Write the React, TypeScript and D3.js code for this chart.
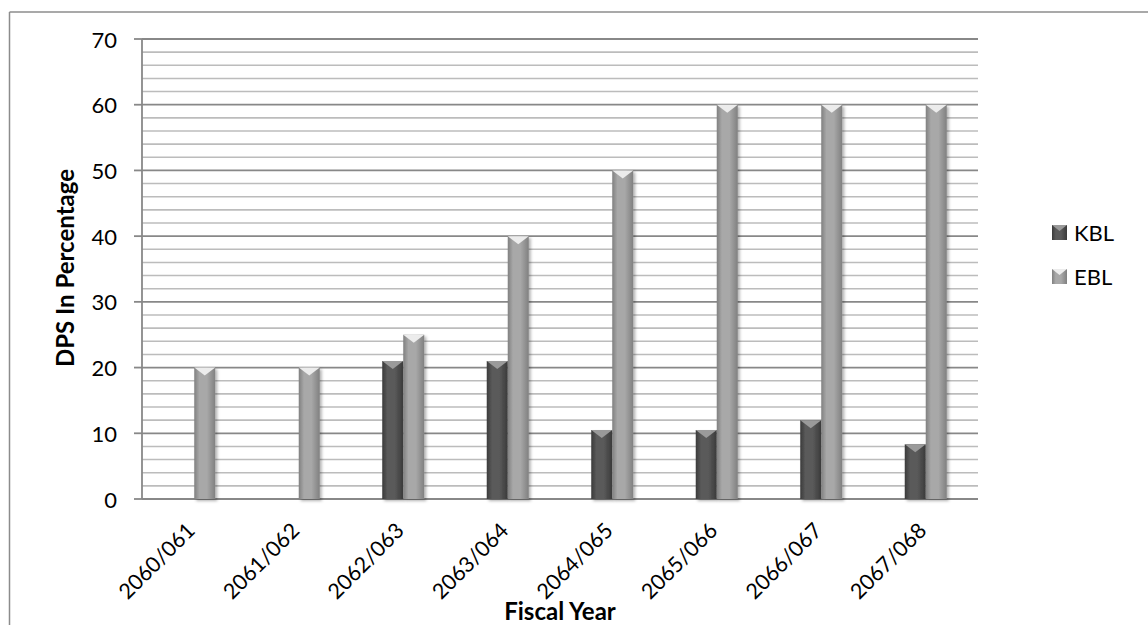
import React from "react";
import * as d3 from "d3";

// Fiscal years and dividend-per-share values (%) for the two banks
const fiscalYears = [
  "2060/061",
  "2061/062",
  "2062/063",
  "2063/064",
  "2064/065",
  "2065/066",
  "2066/067",
  "2067/068",
];
const kblValues = [0, 0, 21, 21, 10.5, 10.5, 12, 8.33];
const eblValues = [20, 20, 25, 40, 50, 60, 60, 60];
const seriesNames = ["KBL", "EBL"];
const yTicks = [0, 10, 20, 30, 40, 50, 60, 70];

const W = 1148;
const H = 625;
const plot = { left: 142, right: 978, top: 39, bottom: 499 };
const FONT = "Lato, 'Open Sans', sans-serif";

const palette: Record<string, { edge: string; mid: string; cap: string }> = {
  KBL: { edge: "#3a3a3a", mid: "#5a5a5a", cap: "#9a9a9a" },
  EBL: { edge: "#808080", mid: "#a8a8a8", cap: "#ececec" },
};

export default function App() {
  const x0 = d3
    .scaleBand<string>()
    .domain(fiscalYears)
    .range([plot.left, plot.right])
    .paddingInner(0.598)
    .paddingOuter(0.299);
  const x1 = d3
    .scaleBand<string>()
    .domain(seriesNames)
    .range([0, x0.bandwidth()]);
  const y = d3.scaleLinear().domain([0, 70]).range([plot.bottom, plot.top]);

  const minorTicks = d3.range(0, 71, 2).filter((v) => v % 10 !== 0);

  const rows = fiscalYears.map((fy, i) => ({
    fy,
    KBL: kblValues[i],
    EBL: eblValues[i],
  }));

  const bar = (key: string, cx: number, v: number, k: string) => {
    if (v <= 0) return null;
    const bx = cx + (x1(key) ?? 0);
    const bw = x1.bandwidth();
    const top = y(v);
    const h = y(0) - top;
    const capH = Math.min(8, h);
    return (
      <g key={k} filter="url(#barShadow)">
        <rect x={bx} y={top} width={bw} height={h} fill={`url(#grad-${key})`} />
        <polygon
          points={`${bx},${top} ${bx + bw},${top} ${bx + bw / 2},${top + capH}`}
          fill={palette[key].cap}
        />
      </g>
    );
  };

  const legendY = [232, 276];

  return (
    <svg
      width={W}
      height={H}
      style={{ position: "absolute", left: 0, top: 0, background: "#fff" }}
      fontFamily={FONT}
    >
      <defs>
        {seriesNames.map((s) => (
          <linearGradient key={s} id={`grad-${s}`} x1="0" x2="1" y1="0" y2="0">
            <stop offset="0" stopColor={palette[s].edge} />
            <stop offset="0.25" stopColor={palette[s].mid} />
            <stop offset="0.6" stopColor={palette[s].mid} />
            <stop offset="1" stopColor={palette[s].edge} />
          </linearGradient>
        ))}
        <filter id="barShadow" x="-30%" y="-10%" width="160%" height="130%">
          <feDropShadow dx="2" dy="2" stdDeviation="1.5" floodColor="#000" floodOpacity="0.3" />
        </filter>
      </defs>

      {/* outer frame */}
      <line x1={9.5} x2={W} y1={12} y2={12} stroke="#8c8c8c" strokeWidth={1.5} />
      <line x1={9.5} x2={9.5} y1={12} y2={H} stroke="#8c8c8c" strokeWidth={1.5} />

      {/* minor gridlines */}
      {minorTicks.map((t) => (
        <line
          key={`m${t}`}
          x1={plot.left}
          x2={plot.right}
          y1={y(t)}
          y2={y(t)}
          stroke="#bcbcbc"
          strokeWidth={1.6}
        />
      ))}
      {/* major gridlines and y ticks */}
      {yTicks.map((t) => (
        <g key={`M${t}`}>
          <line
            x1={plot.left}
            x2={plot.right}
            y1={y(t)}
            y2={y(t)}
            stroke="#888888"
            strokeWidth={1.8}
          />
          <line x1={plot.left - 8} x2={plot.left} y1={y(t)} y2={y(t)} stroke="#888888" strokeWidth={1.8} />
          <text
            x={117}
            y={y(t)}
            textAnchor="end"
            dominantBaseline="central"
            fontSize={22}
            fill="#000"
          >
            {t}
          </text>
        </g>
      ))}
      <line x1={plot.left} x2={plot.left} y1={plot.top} y2={plot.bottom} stroke="#888888" strokeWidth={1.8} />

      {/* bars */}
      {rows.map((r) => {
        const cx = x0(r.fy) ?? 0;
        return (
          <g key={r.fy}>
            {bar("KBL", cx, r.KBL, `${r.fy}-k`)}
            {bar("EBL", cx, r.EBL, `${r.fy}-e`)}
          </g>
        );
      })}

      {/* category labels */}
      {fiscalYears.map((fy) => {
        const c = (x0(fy) ?? 0) + x0.bandwidth() / 2;
        return (
          <text
            key={fy}
            transform={`translate(${c + 2},${532}) rotate(-45)`}
            textAnchor="end"
            fontSize={21.5}
            fill="#000"
          >
            {fy}
          </text>
        );
      })}

      {/* axis titles */}
      <text x={560} y={620} textAnchor="middle" fontSize={24} fontWeight="bold" fill="#000">
        Fiscal Year
      </text>
      <text
        transform={`translate(74,268) rotate(-90)`}
        textAnchor="middle"
        fontSize={24}
        fontWeight="bold"
        fill="#000"
      >
        DPS In Percentage
      </text>

      {/* legend */}
      {seriesNames.map((s, i) => (
        <g key={s} transform={`translate(1052,${legendY[i]})`}>
          <rect x={0} y={-7} width={15} height={15} fill={`url(#grad-${s})`} />
          <polygon points={`0,-7 15,-7 7.5,-1`} fill={palette[s].cap} />
          <text x={22} y={0} dominantBaseline="central" fontSize={22} fill="#000">
            {s}
          </text>
        </g>
      ))}
    </svg>
  );
}
